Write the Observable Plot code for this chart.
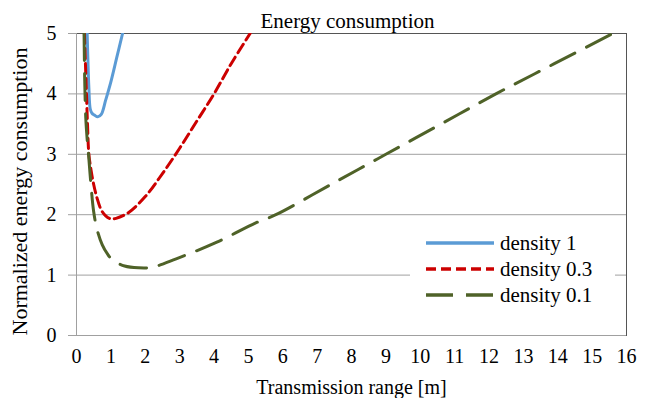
<!DOCTYPE html>
<html>
<head>
<meta charset="utf-8">
<script src="https://cdn.jsdelivr.net/npm/d3@7"></script>
<script src="https://cdn.jsdelivr.net/npm/@observablehq/plot@0.6"></script>
<style>
  body { margin: 0; background: white; }
  #wrap { position: relative; width: 645px; height: 398px; }
  #wrap svg text { font-family: "Liberation Serif", "Times New Roman", serif; }
  #legend { position: absolute; left: 410px; top: 228px; width: 205px; height: 92px; background: white;
            font-family: "Liberation Serif", "Times New Roman", serif; font-size: 21px; }
  .row { position: absolute; left: 0; height: 22px; }
  .row svg { position: absolute; left: 14px; top: 1px; }
  .row span { position: absolute; left: 90px; top: 0; line-height: 22px; white-space: nowrap; }
</style>
</head>
<body>
<div id="wrap"></div>
<script>
const seriesNames = ["density 1", "density 0.3", "density 0.1"];
const seriesColors = ["#5B9BD5", "#CC0000", "#4F6228"];
const seriesDash = [null, "10,5", "27,13"];

const density1X = [0.31, 0.33, 0.36, 0.40, 0.45, 0.52, 0.62, 0.72, 0.85, 1.0, 1.17, 1.34];
const density1Y = [5.0, 4.6, 4.1, 3.75, 3.68, 3.65, 3.62, 3.66, 3.9, 4.2, 4.6, 5.0];

const density03X = [0.23, 0.26, 0.29, 0.32, 0.36, 0.42, 0.5, 0.6, 0.72, 0.85, 1.0, 1.15, 1.5, 2.0, 2.5, 3.0, 3.5, 4.0, 4.5, 5.05];
const density03Y = [5.0, 4.5, 4.0, 3.5, 3.0, 2.75, 2.5, 2.27, 2.08, 1.98, 1.93, 1.94, 2.03, 2.3, 2.68, 3.1, 3.55, 4.0, 4.5, 5.0];

const density01X = [0.22, 0.24, 0.27, 0.31, 0.35, 0.42, 0.5, 0.6, 0.75, 0.9, 1.05, 1.4, 1.8, 2.2, 2.9, 4.1, 5.2, 5.8, 7.4, 9.0, 10.6, 12.2, 13.9, 15.6];
const density01Y = [5.0, 4.2, 3.6, 3.25, 3.0, 2.5, 2.05, 1.75, 1.5, 1.35, 1.25, 1.15, 1.12, 1.13, 1.27, 1.55, 1.86, 2.0, 2.5, 3.0, 3.5, 4.0, 4.5, 5.0];

const xTicks = [0,1,2,3,4,5,6,7,8,9,10,11,12,13,14,15,16];
const yTicks = [0,1,2,3,4,5];
const titleText = "Energy consumption";
const xLabel = "Transmission range [m]";
const yLabel = "Normalized energy consumption";

const seriesX = [density1X, density03X, density01X];
const seriesY = [density1Y, density03Y, density01Y];
const lines = seriesNames.map((name, i) => seriesX[i].map((x, j) => ({series: name, x, y: seriesY[i][j]})));

const plot = Plot.plot({
  width: 645,
  height: 398,
  marginTop: 33,
  marginBottom: 63,
  marginLeft: 76,
  marginRight: 19,
  style: "font-family: 'Liberation Serif', 'Times New Roman', serif; font-size: 20px; background: white; color: black;",
  x: {domain: [0, 16], ticks: xTicks},
  y: {domain: [0, 5], ticks: yTicks},
  marks: [
    Plot.gridY(yTicks, {stroke: "#a0a0a0", strokeOpacity: 1}),
    Plot.frame({stroke: "#555"}),
    Plot.ruleX([0], {stroke: "#a0a0a0"}),
    Plot.ruleY([0], {stroke: "#a0a0a0"}),
    Plot.axisY(yTicks, {tickSize: 8, tickPadding: 12, stroke: "#a0a0a0", tickFormat: d => String(d), fontSize: 20, label: null}),
    Plot.axisX(xTicks, {tickSize: 0, tickPadding: 13, tickFormat: d => String(d), fontSize: 20, label: xLabel, labelAnchor: "center", labelOffset: 58, labelArrow: "none"}),
    ...lines.map((d, i) => Plot.line(d, {x: "x", y: "y", stroke: seriesColors[i], strokeWidth: 3, strokeDasharray: seriesDash[i], curve: "catmull-rom", clip: true})),
    Plot.text([titleText], {frameAnchor: "top", lineAnchor: "bottom", dy: -6, dx: -4, fontSize: 21}),
    Plot.text([yLabel], {frameAnchor: "left", textAnchor: "middle", lineAnchor: "middle", rotate: -90, dx: -57, dy: 7, fontSize: 22})
  ]
});

const wrap = document.getElementById("wrap");
wrap.appendChild(plot);

const legend = document.createElement("div");
legend.id = "legend";
seriesNames.forEach((name, i) => {
  const row = document.createElement("div");
  row.className = "row";
  row.style.top = (4 + i * 26) + "px";
  const dash = seriesDash[i] ? `stroke-dasharray="${seriesDash[i]}"` : "";
  row.innerHTML = `<svg width="72" height="20"><line x1="2" y1="10" x2="70" y2="10" stroke="${seriesColors[i]}" stroke-width="3.5" ${dash}/></svg><span>${name}</span>`;
  legend.appendChild(row);
});
wrap.appendChild(legend);
</script>
</body>
</html>
